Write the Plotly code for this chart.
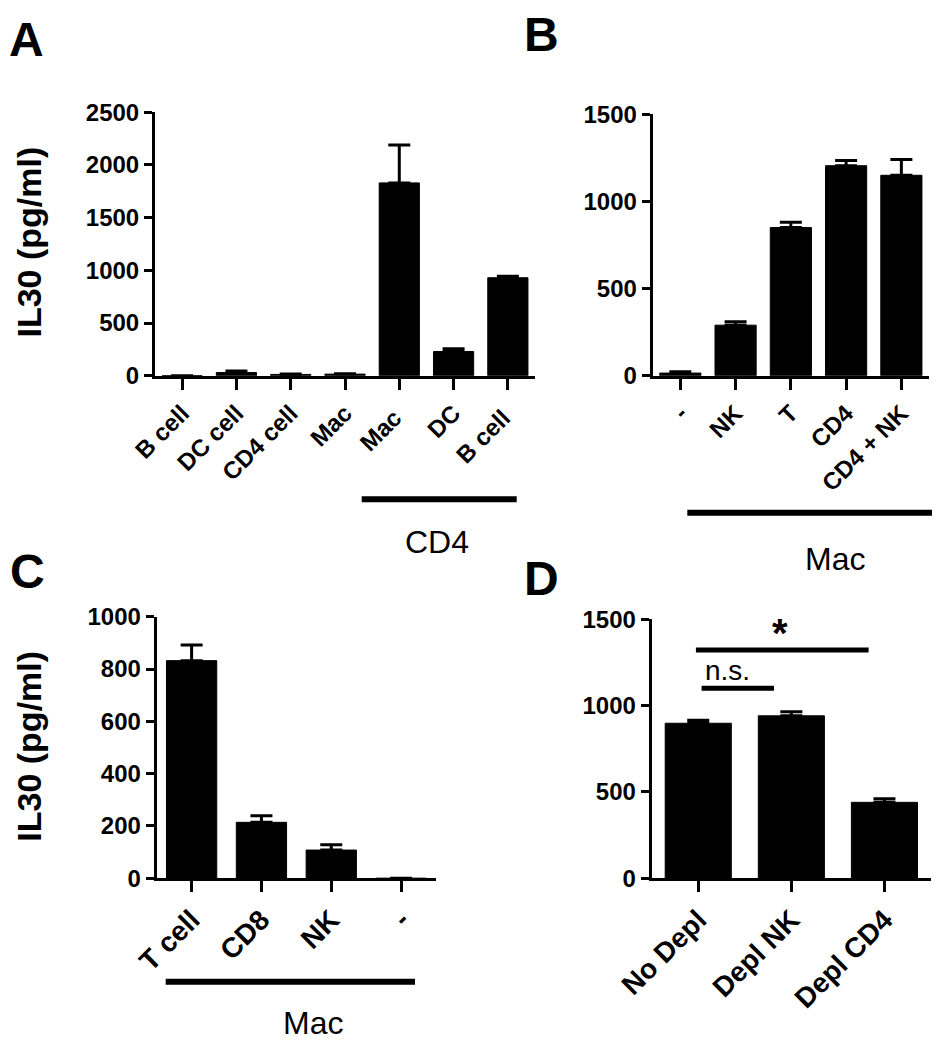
import plotly.graph_objects as go

# ---------------- data ----------------
a_categories = ["B cell", "DC cell", "CD4 cell", "Mac", "Mac ", "DC", "B cell "]
a_values = [0, 30, 12, 15, 1830, 230, 930]
a_errors = [0, 15, 5, 3, 360, 25, 15]

b_categories = ["-", "NK", "T", "CD4", "CD4 + NK"]
b_values = [15, 290, 850, 1205, 1150]
b_errors = [8, 20, 30, 30, 90]

c_categories = ["T cell", "CD8", "NK", "-"]
c_values = [832, 214, 108, 0]
c_errors = [60, 25, 20, 0]

d_categories = ["No Depl", "Depl NK", "Depl CD4"]
d_values = [898, 941, 440]
d_errors = [17, 24, 21]

y_title = "IL30 (pg/ml)"

# page body has an 8px margin; the figure is sized/positioned to compensate
OFF = 8
W, H = 940 - OFF, 1050 - OFF
FONT = "Liberation Sans, Arial, sans-serif"


def px(x):
    return (x - OFF) / W


def py(y):
    return 1 - (y - OFF) / H


fig = go.Figure()

panels = [
    # name, cats, vals, errs, xdomain(px), ydomain(px bottom, top), yrange, dtick, barwidth, xfont
    ("", a_categories, a_values, a_errors, (155, 535), (375.7, 112.3), 2500, 500, 0.74, 24),
    ("2", b_categories, b_values, b_errors, (652.7, 929), (375.7, 114.3), 1500, 500, 0.745, 24),
    ("3", c_categories, c_values, c_errors, (156.7, 436), (878.3, 616.7), 1000, 200, 0.72, 28),
    ("4", d_categories, d_values, d_errors, (651.7, 931), (878.3, 619.3), 1500, 500, 0.71, 28),
]

for name, cats, vals, errs, xd, yd, ymax, dt, bw, xfs in panels:
    err_plus = [e if e > 0 else None for e in errs]
    fig.add_trace(go.Bar(
        x=cats, y=vals,
        xaxis="x" + name, yaxis="y" + name,
        width=bw,
        marker=dict(color="black", line=dict(color="black", width=1)),
        error_y=dict(type="data", symmetric=False, array=err_plus,
                     arrayminus=[0] * len(errs),
                     color="black", thickness=3, width=11),
        showlegend=False,
    ))
    xa = dict(
        domain=[px(xd[0]), px(xd[1])], anchor="y" + name,
        type="category", range=[-0.5, len(cats) - 0.5],
        showline=True, linewidth=3, linecolor="black",
        ticks="outside", ticklen=11, tickwidth=3, tickcolor="black",
        tickangle=-45, showgrid=False, zeroline=False, automargin=False,
        tickfont=dict(family=FONT, size=xfs, color="black", weight="bold"),
        fixedrange=True,
    )
    ya = dict(
        domain=[py(yd[0]), py(yd[1])], anchor="x" + name,
        range=[0, ymax], dtick=dt, tick0=0,
        showline=True, linewidth=3, linecolor="black",
        ticks="outside", ticklen=8, tickwidth=3, tickcolor="black",
        showgrid=False, zeroline=False, automargin=False,
        tickfont=dict(family=FONT, size=24, color="black", weight="bold"),
        fixedrange=True,
    )
    fig.update_layout(**{"xaxis" + name: xa, "yaxis" + name: ya})

shapes = []
annotations = []

# group bars under x labels
for x0, x1, y in [(361.7, 516.7, 499.3), (687.3, 938.3, 512.7), (165.7, 415, 981.7)]:
    shapes.append(dict(type="line", xref="paper", yref="paper",
                       x0=px(x0), x1=px(min(x1, 938)), y0=py(y), y1=py(y),
                       line=dict(color="black", width=6)))

for text, x, y in [("CD4", 436.7, 541.7), ("Mac", 835, 559.3), ("Mac", 313, 1023)]:
    annotations.append(dict(text=text, xref="paper", yref="paper", x=px(x), y=py(y),
                            xanchor="center", yanchor="middle", showarrow=False,
                            font=dict(family=FONT, size=32, color="black")))

# panel letters
for text, x, y in [("A", 26.5, 40), ("B", 541, 34), ("C", 27, 571), ("D", 541, 578)]:
    annotations.append(dict(text=text, xref="paper", yref="paper", x=px(x), y=py(y),
                            xanchor="center", yanchor="middle", showarrow=False,
                            font=dict(family=FONT, size=48, color="black", weight="bold")))

# y-axis titles
for y in [242.5, 746.7]:
    annotations.append(dict(text=y_title, xref="paper", yref="paper", x=px(29), y=py(y),
                            xanchor="center", yanchor="middle", showarrow=False, textangle=-90,
                            font=dict(family=FONT, size=34, color="black", weight="bold")))

# significance brackets panel D
shapes.append(dict(type="line", xref="x4", yref="y4", x0=-0.025, x1=1.83, y0=1322, y1=1322,
                   line=dict(color="black", width=5)))
shapes.append(dict(type="line", xref="x4", yref="y4", x0=0.036, x1=0.814, y0=1100, y1=1100,
                   line=dict(color="black", width=5)))
annotations.append(dict(text="*", xref="x4", yref="y4", x=0.875, y=1420,
                        xanchor="center", yanchor="middle", showarrow=False,
                        font=dict(family=FONT, size=40, color="black", weight="bold")))
annotations.append(dict(text="n.s.", xref="x4", yref="y4", x=0.318, y=1203,
                        xanchor="center", yanchor="middle", showarrow=False,
                        font=dict(family=FONT, size=28, color="black")))

fig.update_layout(
    template="none",
    width=W, height=H,
    margin=dict(l=0, r=0, t=0, b=0, pad=0, autoexpand=False),
    paper_bgcolor="white", plot_bgcolor="white",
    shapes=shapes, annotations=annotations,
    bargap=0.26,
    font=dict(family=FONT, color="black"),
)

fig.write_html("out.html")
